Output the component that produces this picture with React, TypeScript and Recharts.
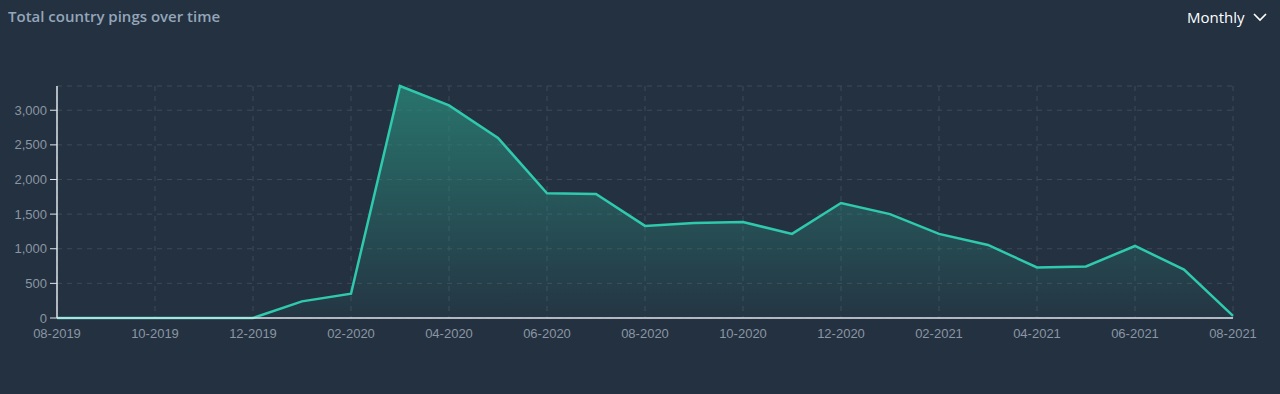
import React from 'react'
import { AreaChart, Area, XAxis, YAxis, CartesianGrid } from 'recharts'

const months = [
  '08-2019', '09-2019', '10-2019', '11-2019', '12-2019',
  '01-2020', '02-2020', '03-2020', '04-2020', '05-2020', '06-2020', '07-2020',
  '08-2020', '09-2020', '10-2020', '11-2020', '12-2020',
  '01-2021', '02-2021', '03-2021', '04-2021', '05-2021', '06-2021', '07-2021', '08-2021',
]
const pings = [
  0, 0, 0, 0, 0,
  240, 350, 3350, 3070, 2600, 1800, 1790,
  1330, 1370, 1385, 1215, 1660,
  1500, 1215, 1055, 730, 745, 1040, 700, 30,
]
const yTicks = [0, 500, 1000, 1500, 2000, 2500, 3000]

const data = months.map((month, i) => ({ month, pings: pings[i] }))

const BG = '#243140'

export default function App() {
  return (
    <div style={{ position: 'absolute', top: 0, left: 0, width: 1280, height: 394, background: BG, fontFamily: '"Open Sans", sans-serif' }}>
      <div style={{ position: 'absolute', left: 8, top: 6, fontSize: 15, color: '#93a6ba', fontWeight: 600 }}>
        Total country pings over time
      </div>
      <div style={{ position: 'absolute', left: 1187, top: 7, fontSize: 15, color: '#ffffff', display: 'flex', alignItems: 'center' }}>
        Monthly
        <svg width="14" height="10" style={{ marginLeft: 8 }}>
          <polyline points="1,2 7,8 13,2" fill="none" stroke="#ffffff" strokeWidth="1.6" />
        </svg>
      </div>
      <div style={{ position: 'absolute', top: 0, left: 0 }}>
        <AreaChart width={1280} height={394} data={data} margin={{ top: 86, right: 47, bottom: 46, left: 0 }}>
          <defs>
            <linearGradient id="pingFill" x1="0" y1="0" x2="0" y2="1">
              <stop offset="0%" stopColor="#2a8a7c" stopOpacity={0.75} />
              <stop offset="100%" stopColor="#2a8a7c" stopOpacity={0.05} />
            </linearGradient>
          </defs>
          <CartesianGrid stroke="#3d4a58" strokeDasharray="5 5" />
          <XAxis
            dataKey="month"
            interval={1}
            tickLine={false}
            axisLine={{ stroke: '#dfe4ea', strokeWidth: 1.5 }}
            tick={{ fill: '#8a96a3', fontSize: 13, fontFamily: 'Arial, sans-serif' }}
            tickMargin={5}
            height={30}
          />
          <YAxis
            width={57}
            domain={[0, 'dataMax']}
            ticks={yTicks}
            tickFormatter={(v: number) => v.toLocaleString('en-US')}
            axisLine={{ stroke: '#dfe4ea', strokeWidth: 1.5 }}
            tickLine={{ stroke: '#dfe4ea' }}
            tickSize={7}
            tickMargin={3}
            tick={{ fill: '#8a96a3', fontSize: 13, fontFamily: 'Arial, sans-serif' }}
          />
          <Area
            type="linear"
            dataKey="pings"
            stroke="#2fcaae"
            strokeWidth={2.5}
            fill="url(#pingFill)"
            fillOpacity={1}
            dot={false}
            activeDot={false}
            isAnimationActive={false}
          />
        </AreaChart>
      </div>
    </div>
  )
}
